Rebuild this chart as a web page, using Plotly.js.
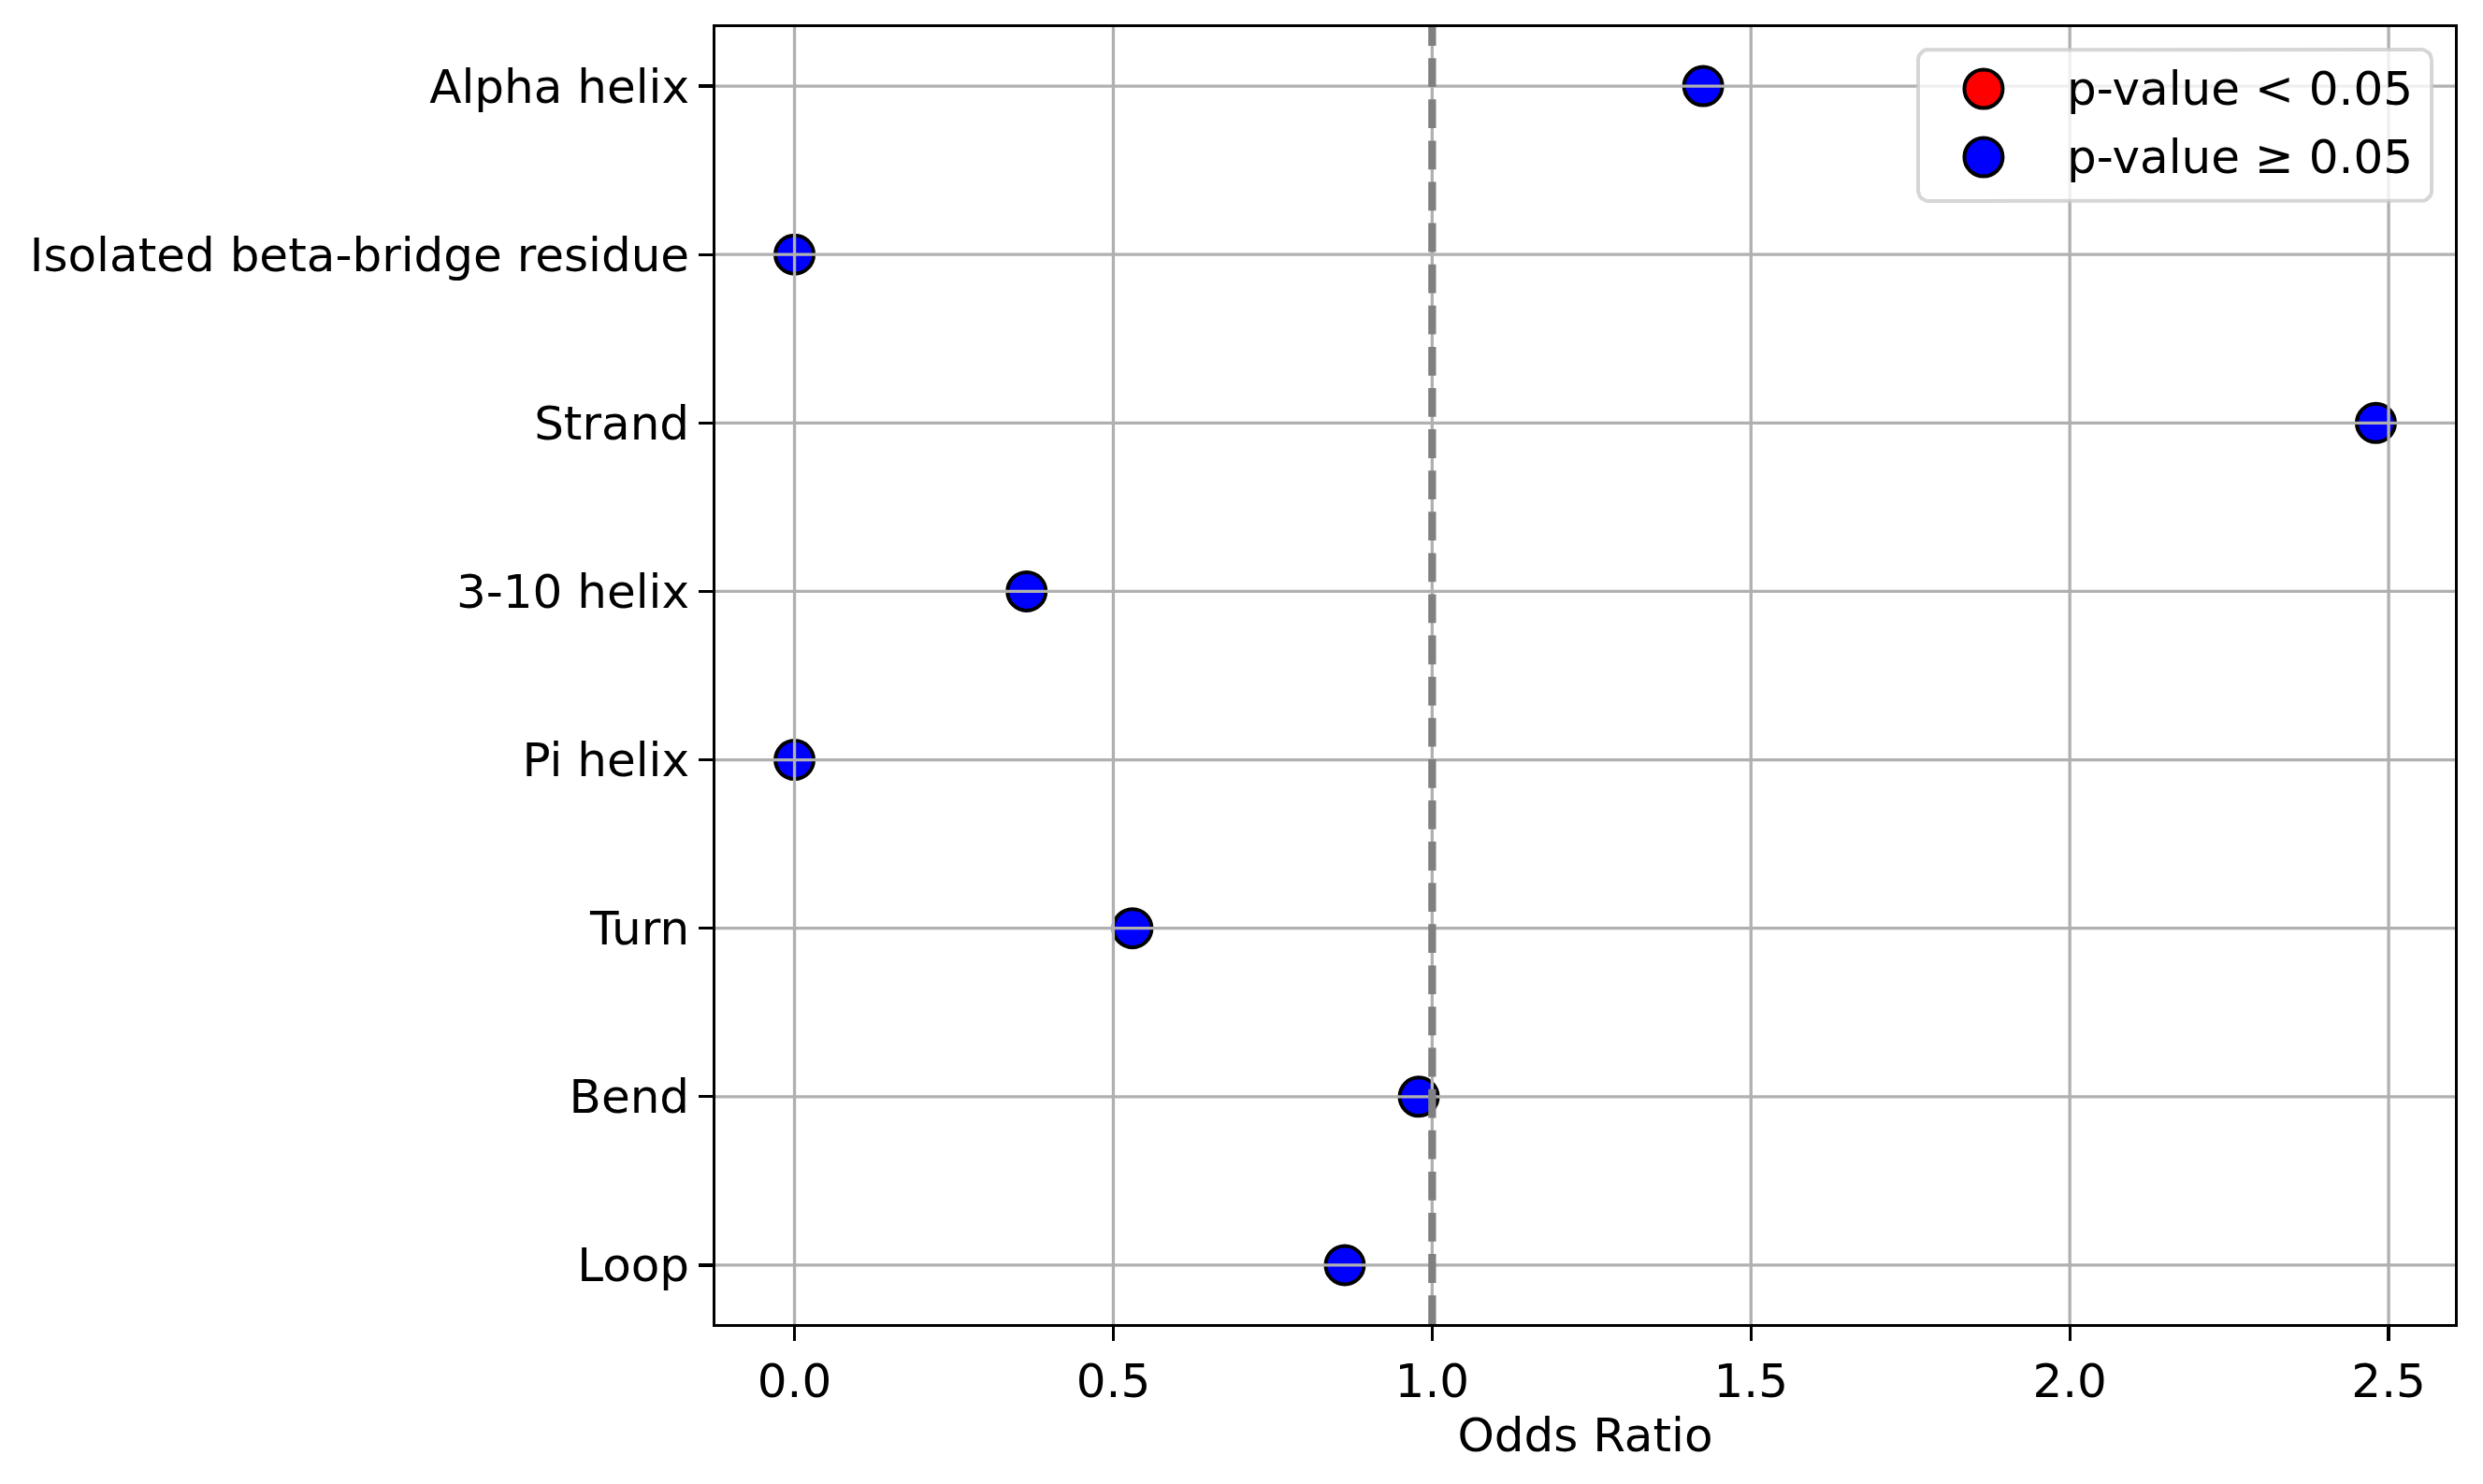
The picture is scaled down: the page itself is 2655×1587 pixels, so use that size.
<!DOCTYPE html>
<html>
<head>
<meta charset="utf-8">
<script src="https://cdn.plot.ly/plotly-3.0.1.min.js"></script>
<style>
  html, body { margin: 0; padding: 0; background: #fff; }
  #chart { width: 2655px; height: 1587px; }
</style>
</head>
<body>
<div id="chart"></div>
<script>
/* global Plotly */
// categories listed bottom to top
const CATEGORIES = ['Loop', 'Bend', 'Turn', 'Pi helix', '3-10 helix', 'Strand',
  'Isolated beta-bridge residue', 'Alpha helix'];
const ODDS_RATIO = [0.863, 0.979, 0.530, 0.0, 0.364, 2.48, 0.0, 1.425];
const SIGNIFICANT = [false, false, false, false, false, false, false, false];

const X_TICKS = [0, 0.5, 1.0, 1.5, 2.0, 2.5];
const REFERENCE_LINE = 1.0;

const LEGEND_LABELS = ['p-value < 0.05', 'p-value \u2265 0.05'];
const LEGEND_COLORS = ['red', 'blue'];

const W = 2655;
const H = 1587;
const MARGIN = { l: 765, r: 30, t: 29, b: 171, pad: 0 };
const PLOT_W = W - MARGIN.l - MARGIN.r;
const PLOT_H = H - MARGIN.t - MARGIN.b;
const FONT = 'DejaVu Sans, sans-serif';
const FONT_SIZE = 50;
const GRID_COLOR = '#b0b0b0';

// matplotlib-like 5% padding on each side
const xMax = Math.max(...ODDS_RATIO);
const xMin = Math.min(...ODDS_RATIO);
const xPad = (xMax - xMin) * 0.05;
const X_RANGE = [xMin - xPad, xMax + xPad];
const yIdx = CATEGORIES.map((c, i) => i);
const yPad = (CATEGORIES.length - 1) * 0.05;
const Y_RANGE = [-yPad, CATEGORIES.length - 1 + yPad];

// grid lines drawn over the markers, like the original
const gridX = [];
const gridY = [];
yIdx.forEach(function (i) {
  gridX.push(X_RANGE[0], X_RANGE[1], null);
  gridY.push(i, i, null);
});
X_TICKS.forEach(function (t) {
  gridX.push(t, t, null);
  gridY.push(Y_RANGE[0], Y_RANGE[1], null);
});

const traces = [];
traces.push({
  x: ODDS_RATIO,
  y: yIdx,
  type: 'scatter',
  mode: 'markers',
  showlegend: false,
  hoverinfo: 'skip',
  marker: {
    size: 41,
    color: SIGNIFICANT.map(s => (s ? LEGEND_COLORS[0] : LEGEND_COLORS[1])),
    line: { color: 'black', width: 4 }
  }
});
traces.push({
  x: gridX,
  y: gridY,
  type: 'scatter',
  mode: 'lines',
  showlegend: false,
  hoverinfo: 'skip',
  line: { color: GRID_COLOR, width: 3.3 }
});
traces.push({
  x: [REFERENCE_LINE, REFERENCE_LINE],
  y: Y_RANGE,
  type: 'scatter',
  mode: 'lines',
  showlegend: false,
  hoverinfo: 'skip',
  line: { color: 'gray', width: 8.3, dash: '30.8px,13.3px' }
});

// legend frame (rounded box) in plot-area fractions
const box = { x0: 0.6914, x1: 0.9866, y0: 0.8659, y1: 0.9827 };
const rx = 11 / PLOT_W;
const ry = 11 / PLOT_H;
const boxX = [];
const boxY = [];
const corners = [
  [box.x1 - rx, box.y1 - ry, 0],
  [box.x0 + rx, box.y1 - ry, 90],
  [box.x0 + rx, box.y0 + ry, 180],
  [box.x1 - rx, box.y0 + ry, 270]
];
corners.forEach(function (c) {
  for (let k = 0; k <= 6; k++) {
    const a = (c[2] + k * 15) * Math.PI / 180;
    boxX.push(c[0] + rx * Math.cos(a));
    boxY.push(c[1] + ry * Math.sin(a));
  }
});
boxX.push(boxX[0]);
boxY.push(boxY[0]);
traces.push({
  x: boxX,
  y: boxY,
  xaxis: 'x2',
  yaxis: 'y2',
  type: 'scatter',
  mode: 'lines',
  fill: 'toself',
  fillcolor: 'rgba(255,255,255,0.8)',
  line: { color: 'rgba(204,204,204,0.8)', width: 4 },
  showlegend: false,
  hoverinfo: 'skip'
});

const legendX = 0.729;
const legendY = [0.9524, 0.8998];
traces.push({
  x: LEGEND_LABELS.map(() => legendX),
  y: legendY,
  xaxis: 'x2',
  yaxis: 'y2',
  type: 'scatter',
  mode: 'markers',
  showlegend: false,
  hoverinfo: 'skip',
  marker: { size: 41, color: LEGEND_COLORS, line: { color: 'black', width: 4 } }
});

const annotations = LEGEND_LABELS.map(function (label, i) {
  return {
    text: label,
    xref: 'paper',
    yref: 'paper',
    x: 0.7758,
    y: legendY[i],
    xanchor: 'left',
    yanchor: 'middle',
    showarrow: false,
    font: { family: FONT, size: FONT_SIZE, color: 'black' }
  };
});

const axisCommon = {
  showgrid: false,
  zeroline: false,
  showline: true,
  mirror: true,
  linecolor: 'black',
  linewidth: 3.3,
  ticks: 'outside',
  ticklen: 14.6,
  tickwidth: 3.3,
  tickcolor: 'black',
  tickfont: { family: FONT, size: FONT_SIZE, color: 'black' },
  automargin: false
};

const layout = {
  width: W,
  height: H,
  margin: MARGIN,
  paper_bgcolor: 'white',
  plot_bgcolor: 'white',
  font: { family: FONT, size: FONT_SIZE, color: 'black' },
  showlegend: false,
  xaxis: Object.assign({}, axisCommon, {
    range: X_RANGE,
    tickvals: X_TICKS,
    ticktext: X_TICKS.map(t => t.toFixed(1)),
    title: { text: 'Odds Ratio', font: { family: FONT, size: FONT_SIZE, color: 'black' }, standoff: 12 }
  }),
  yaxis: Object.assign({}, axisCommon, {
    range: Y_RANGE,
    tickvals: yIdx,
    ticktext: CATEGORIES
  }),
  xaxis2: { overlaying: 'x', anchor: 'y2', range: [0, 1], visible: false },
  yaxis2: { overlaying: 'y', anchor: 'x2', range: [0, 1], visible: false },
  annotations: annotations
};

Plotly.newPlot('chart', traces, layout, { staticPlot: true, displayModeBar: false });
</script>
</body>
</html>
